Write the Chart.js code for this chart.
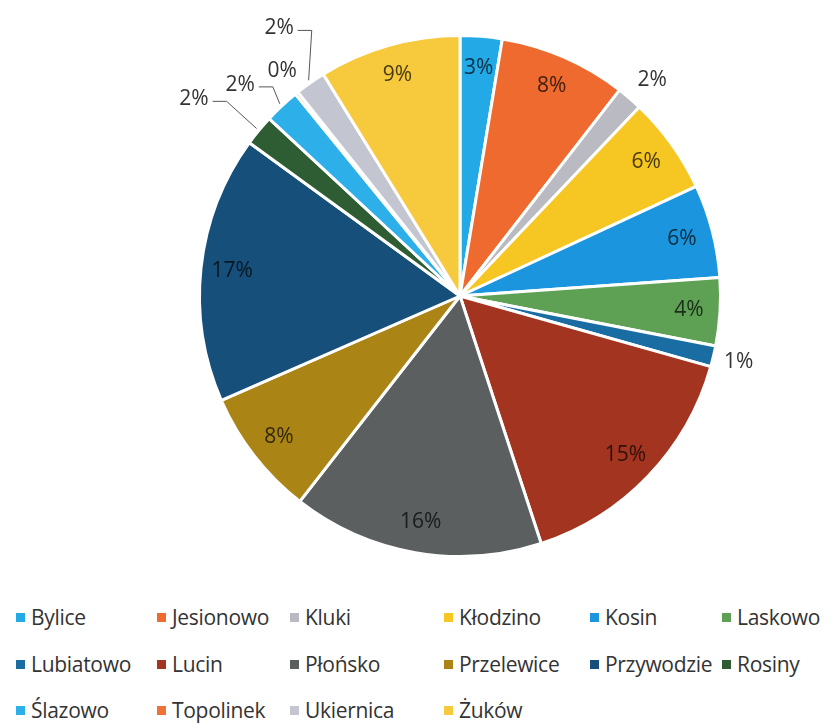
<!DOCTYPE html>
<html>
<head>
<meta charset="utf-8">
<script src="https://cdn.jsdelivr.net/npm/chart.js@4"></script>
<style>
  body { margin: 0; background: #fff; font-family: 'Open Sans', sans-serif; }
  #wrap { position: relative; width: 835px; height: 724px; }
  #pie { position: absolute; left: 0; top: 0; }
  #legend { position: absolute; left: 0; top: 603px; width: 835px; }
  .item { position: absolute; font-size: 21px; color: #333; white-space: nowrap; letter-spacing: -0.3px; }
  .item span { display: inline-block; width: 9px; height: 9px; margin-right: 6px; vertical-align: 3px; }
</style>
</head>
<body>
<div id="wrap">
  <canvas id="pie" width="835" height="590"></canvas>
  <div id="legend"></div>
</div>
<script>
const villages = ['Bylice', 'Jesionowo', 'Kluki', 'Kłodzino', 'Kosin', 'Laskowo',
  'Lubiatowo', 'Lucin', 'Płońsko', 'Przelewice', 'Przywodzie', 'Rosiny',
  'Ślazowo', 'Topolinek', 'Ukiernica', 'Żuków'];
const shares = [2.6, 7.9, 1.6, 6.0, 5.8, 4.2, 1.3, 15.6, 15.6, 7.9, 16.6, 1.9, 2.2, 0.2, 1.9, 8.8];
const shownPct = ['3%', '8%', '2%', '6%', '6%', '4%', '1%', '15%', '16%', '8%', '17%', '2%', '2%', '0%', '2%', '9%'];
const colors = ['#22a9e6', '#ee6a2e', '#b9bac2', '#f6c623', '#1b95dd', '#5ea155',
  '#1a6da3', '#a3341f', '#5b5f60', '#aa8516', '#154f7a', '#2f5d33',
  '#2db0ea', '#f07237', '#c3c6d0', '#f7c93c'];

// small slices: [label distance in radii, angle nudge in degrees]
const outside = { 2: [1.11, 1], 6: [1.1, 0], 11: [1.27, -3], 12: [1.17, -3], 13: [1.1, 0.5], 14: [1.24, 1] };

const pctLabels = {
  id: 'pctLabels',
  afterDatasetsDraw(chart) {
    const ctx = chart.ctx;
    const arcs = chart.getDatasetMeta(0).data;
    ctx.save();
    ctx.font = '21px "Open Sans"';
    ctx.textAlign = 'center';
    ctx.textBaseline = 'middle';
    arcs.forEach((arc, i) => {
      const mid = (arc.startAngle + arc.endAngle) / 2;
      const r = arc.outerRadius;
      const txt = shownPct[i];
      if (outside[i] === undefined) {
        const x = arc.x + Math.cos(mid) * r * 0.88;
        const y = arc.y + Math.sin(mid) * r * 0.88;
        ctx.globalCompositeOperation = 'multiply';
        ctx.fillStyle = '#4a4a4a';
        ctx.fillText(txt, x, y);
        ctx.globalCompositeOperation = 'source-over';
        return;
      }
      const f = outside[i][0];
      const a = mid + outside[i][1] * Math.PI / 180;
      const x = arc.x + Math.cos(a) * r * f;
      const y = arc.y + Math.sin(a) * r * f;
      ctx.fillStyle = '#333';
      ctx.fillText(txt, x, y);
      if (f > 1.15) {
        const w = ctx.measureText(txt).width;
        const left = x < arc.x;
        const ex = x + (left ? 1 : -1) * (w / 2 + 4);
        const bx = ex + (left ? 14 : -14);
        ctx.strokeStyle = '#555';
        ctx.lineWidth = 1;
        ctx.beginPath();
        ctx.moveTo(ex, y + 2);
        ctx.lineTo(bx, y + 2);
        ctx.lineTo(arc.x + Math.cos(mid) * (r + 3), arc.y + Math.sin(mid) * (r + 3));
        ctx.stroke();
      }
    });
    ctx.restore();
  }
};

const chart = new Chart(document.getElementById('pie'), {
  type: 'pie',
  data: {
    labels: villages,
    datasets: [{
      data: shares,
      backgroundColor: colors,
      borderColor: '#fff',
      borderWidth: 3
    }]
  },
  options: {
    responsive: false,
    animation: false,
    layout: { padding: { left: 198, right: 113, top: 33, bottom: 31 } },
    plugins: {
      legend: { display: false },
      tooltip: { enabled: false }
    }
  },
  plugins: [pctLabels]
});

// legend laid out in fixed columns like the original
const colX = [16, 157, 290, 444, 590, 722];
const legend = document.getElementById('legend');
villages.forEach((name, i) => {
  const el = document.createElement('div');
  el.className = 'item';
  el.style.left = colX[i % 6] + 'px';
  el.style.top = (Math.floor(i / 6) * 46.5) + 'px';
  el.innerHTML = '<span style="background:' + colors[i] + '"></span>' + name;
  legend.appendChild(el);
});
</script>
</body>
</html>
